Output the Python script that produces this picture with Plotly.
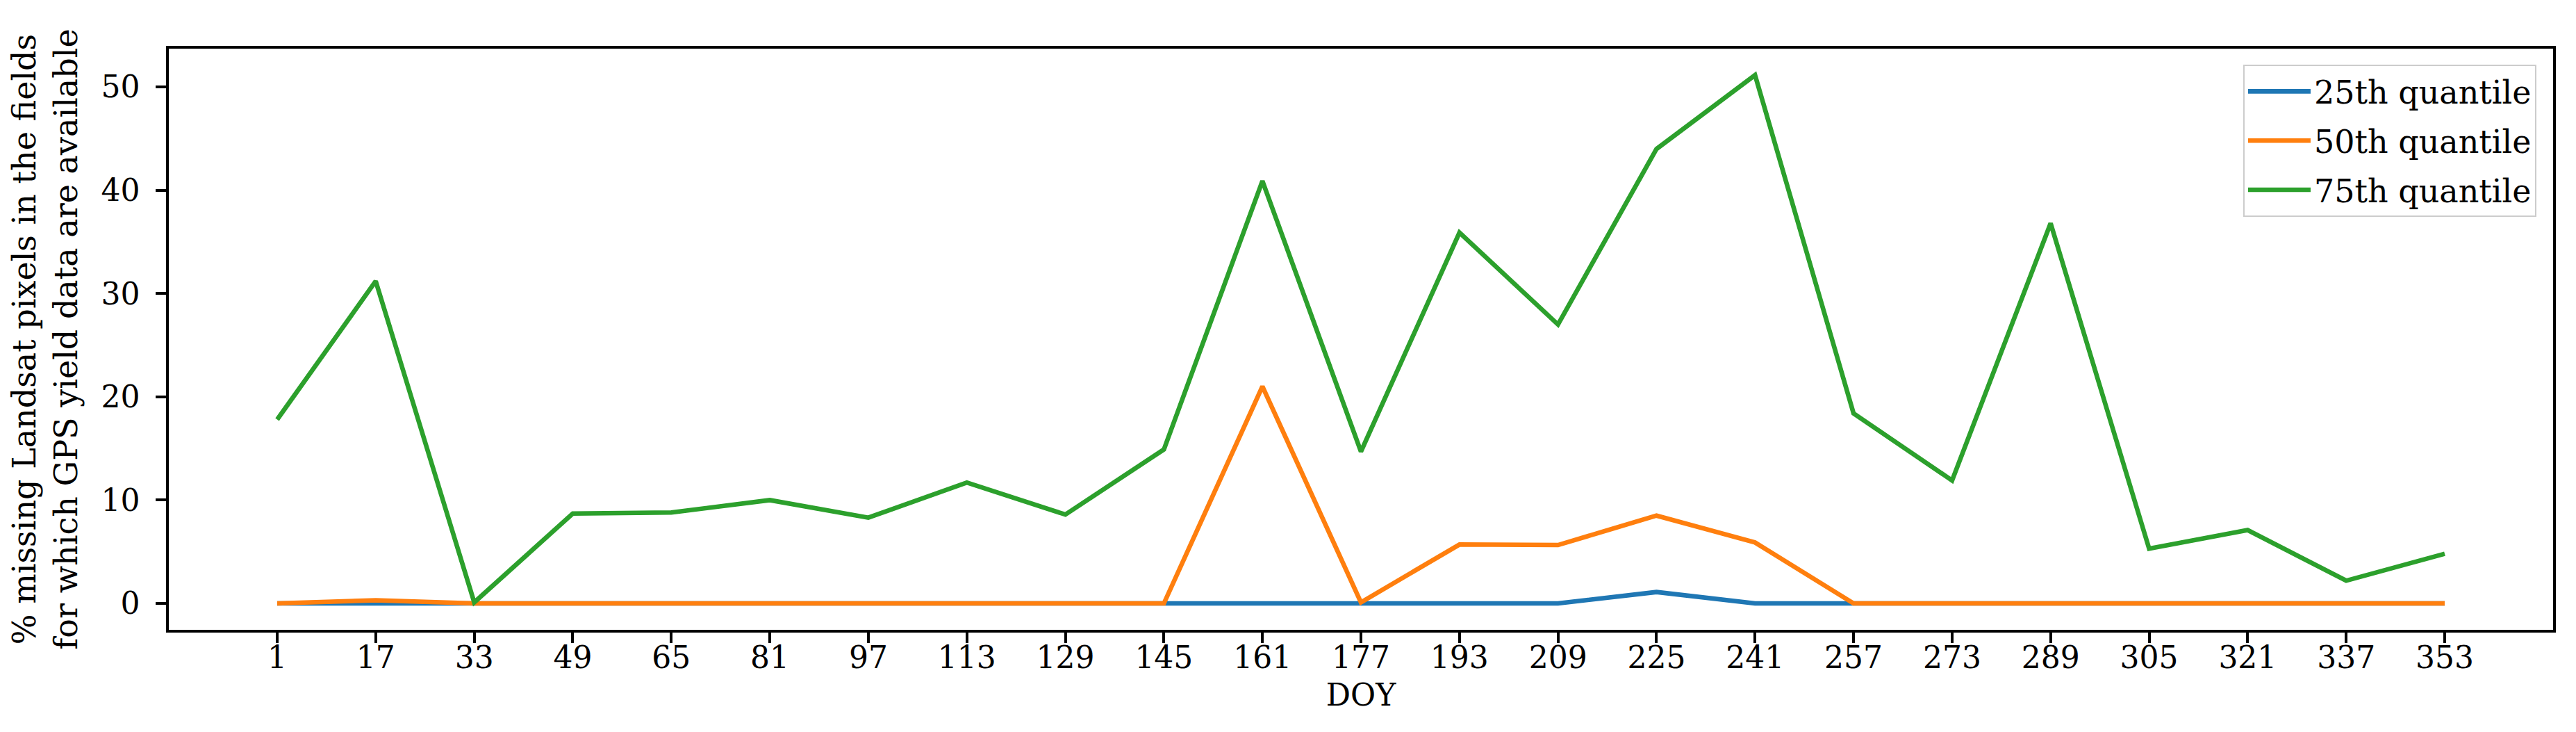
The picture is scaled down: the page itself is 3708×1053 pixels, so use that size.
import plotly.graph_objects as go

# DOY of each Landsat acquisition
doy = [1, 17, 33, 49, 65, 81, 97, 113, 129, 145, 161, 177,
       193, 209, 225, 241, 257, 273, 289, 305, 321, 337, 353]

# % missing pixels, per quantile
q25 = [0, 0, 0, 0, 0, 0, 0, 0, 0, 0, 0, 0,
       0, 0, 1.1, 0, 0, 0, 0, 0, 0, 0, 0]
q50 = [0, 0.3, 0, 0, 0, 0, 0, 0, 0, 0, 21.0, 0.1,
       5.7, 5.65, 8.5, 5.9, 0, 0, 0, 0, 0, 0, 0]
q75 = [17.8, 31.2, 0.1, 8.7, 8.8, 10.0, 8.3, 11.7, 8.6, 14.9, 40.9, 14.7,
       35.9, 27.0, 44.0, 51.15, 18.4, 11.9, 36.8, 5.3, 7.1, 2.2, 4.8]

names = ['25th quantile', '50th quantile', '75th quantile']
colors = ['#1f77b4', '#ff7f0e', '#2ca02c']
yticks = [0, 10, 20, 30, 40, 50]

FONT = 'DejaVu Serif'

fig = go.Figure()
for name, vals, col in zip(names, [q25, q50, q75], colors):
    fig.add_trace(go.Scatter(x=doy, y=vals, mode='lines', name=name,
                             legendgroup=name,
                             line=dict(color=col, width=6.6)))

# matplotlib-like 5% margins
xpad = 0.05 * (max(doy) - min(doy))
ypad = 0.05 * (max(q75) - 0)

axis_common = dict(showline=True, linecolor='black', linewidth=3.5, mirror=True,
                   showgrid=False, zeroline=False, ticks='outside',
                   tickcolor='black', tickwidth=3.5, ticklen=15,
                   tickfont=dict(family=FONT, size=44, color='black'))

fig.update_xaxes(range=[min(doy) - xpad, max(doy) + xpad],
                 tickvals=doy, ticktext=[str(d) for d in doy],
                 ticklabelstandoff=-17,
                 title=dict(text='DOY', standoff=16,
                            font=dict(family=FONT, size=44, color='black')),
                 **axis_common)
fig.update_yaxes(range=[0 - ypad, max(q75) + ypad],
                 tickvals=yticks,
                 ticklabelstandoff=14,
                 title=dict(text='% missing Landsat pixels in the fields<br>'
                                 'for which GPS yield data are available',
                            standoff=24,
                            font=dict(family=FONT, size=46, color='black')),
                 **axis_common)

fig.update_layout(
    width=3708, height=1053,
    margin=dict(l=235, r=41, t=62, b=155),
    paper_bgcolor='white', plot_bgcolor='white',
    font=dict(family=FONT, size=44, color='black'),
    showlegend=True,
    legend=dict(x=0.993, y=0.9725, xanchor='right', yanchor='top',
                bgcolor='white', bordercolor='#cccccc', borderwidth=2,
                font=dict(family=FONT, size=46, color='black'),
                tracegroupgap=8, itemwidth=90),
)

fig.write_html('out.html')
